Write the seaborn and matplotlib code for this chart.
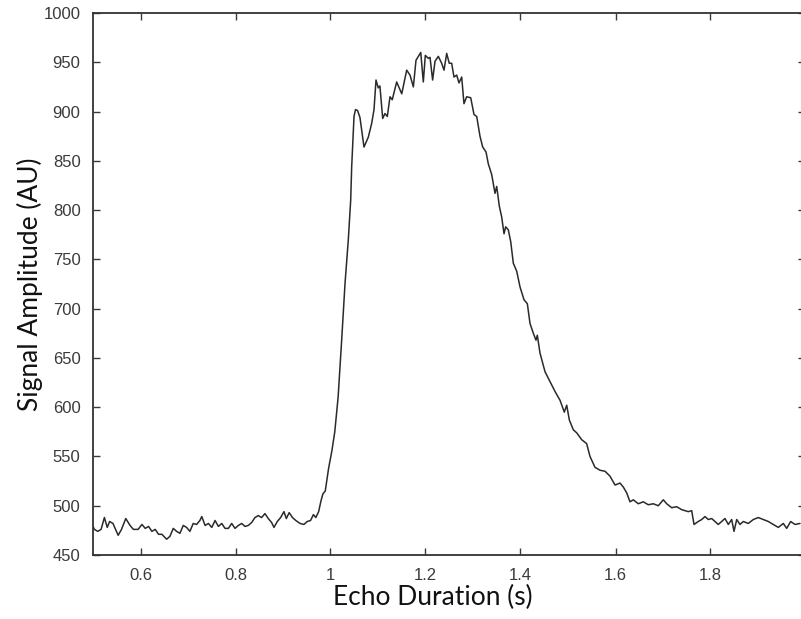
import numpy as np
import pandas as pd
import matplotlib
matplotlib.use("Agg")
import matplotlib.pyplot as plt
import seaborn as sns

# ---- data ----
baseline_t = [0.500, 0.503, 0.510, 0.517, 0.524, 0.530, 0.535, 0.542, 0.553, 0.560,
              0.569, 0.578, 0.585, 0.595, 0.603, 0.610, 0.617, 0.624, 0.631, 0.638,
              0.645, 0.655, 0.662, 0.669, 0.676, 0.683, 0.690, 0.697, 0.704, 0.711,
              0.718, 0.725, 0.729, 0.736, 0.743, 0.750, 0.757, 0.764, 0.771, 0.778,
              0.785, 0.792, 0.799, 0.806, 0.813, 0.820, 0.827, 0.834, 0.841, 0.848,
              0.855, 0.862, 0.869, 0.876, 0.881, 0.888, 0.895, 0.902, 0.907, 0.913,
              0.920, 0.927, 0.936, 0.944, 0.951, 0.958, 0.964, 0.969, 0.975]
baseline_a = [479, 476, 474, 476, 488, 478, 484, 482, 470, 476,
              487, 480, 476, 476, 481, 477, 479, 474, 476, 471,
              471, 466, 469, 477, 474, 472, 480, 478, 474, 482,
              481, 485, 489, 480, 482, 478, 485, 479, 482, 477,
              477, 482, 477, 480, 482, 479, 480, 483, 488, 490,
              488, 492, 487, 483, 478, 484, 488, 494, 487, 493,
              488, 485, 482, 481, 484, 485, 491, 488, 494]

rise_t = [0.980, 0.984, 0.989, 0.996, 1.003, 1.009, 1.016, 1.0235, 1.0305, 1.0375,
          1.0425, 1.0446, 1.0495, 1.0526, 1.057, 1.062, 1.0705]
rise_a = [505, 512, 515, 538, 556, 575, 610, 668, 725, 770,
          810, 844, 895, 902, 901, 894, 864]

plateau_t = [1.0796, 1.0867, 1.0916, 1.0958, 1.1006, 1.104, 1.1099, 1.1147, 1.1196, 1.1253,
             1.130, 1.1393, 1.150, 1.1604, 1.1674, 1.1744, 1.180, 1.185, 1.190, 1.1954,
             1.1996, 1.206, 1.2095, 1.215, 1.220, 1.227, 1.234, 1.239, 1.2446, 1.250,
             1.2551, 1.260, 1.2657, 1.2705, 1.2762, 1.281, 1.2867, 1.2952]
plateau_a = [874, 888, 902, 932, 924, 926, 893, 898, 895, 915,
             912, 930, 918, 942, 937, 925, 952, 956, 960, 930,
             957, 954, 955, 932, 951, 956, 949, 942, 959, 949,
             949, 935, 937, 929, 935, 908, 915, 914]

decay_t = [1.3021, 1.3078, 1.3147, 1.3204, 1.3274, 1.3322, 1.3394, 1.3463, 1.3499, 1.3554,
           1.3604, 1.3653, 1.3688, 1.3743, 1.3794, 1.3849, 1.392, 1.399, 1.4074, 1.4144,
           1.420, 1.427, 1.4326, 1.4354, 1.441, 1.4516, 1.4621, 1.4726, 1.4832, 1.4922,
           1.4973, 1.5028, 1.5112, 1.5183, 1.5288, 1.5393, 1.5463, 1.5568, 1.5674, 1.5779,
           1.5884, 1.599, 1.6095, 1.6164, 1.6236, 1.6305]
decay_a = [897, 895, 875, 864, 859, 847, 836, 817, 824, 804,
           793, 776, 783, 780, 768, 746, 738, 722, 709, 705,
           685, 675, 668, 673, 655, 636, 626, 616, 607, 595,
           602, 587, 577, 574, 567, 563, 550, 539, 536, 535,
           530, 521, 523, 519, 513, 504]

tail_t = [1.6375, 1.648, 1.6585, 1.669, 1.6796, 1.6901, 1.7006, 1.7078, 1.7183, 1.7288,
          1.7394, 1.7533, 1.7604, 1.7653, 1.7743, 1.7815, 1.7884, 1.7954, 1.8025, 1.8095,
          1.8164, 1.8236, 1.8305, 1.8375, 1.8446, 1.8495, 1.8552, 1.8621, 1.8691, 1.8796,
          1.8901, 1.9006, 1.9112, 1.9217, 1.9322, 1.9427, 1.9533, 1.9604, 1.9688, 1.9779,
          1.9884]
tail_a = [506, 502, 504, 501, 502, 500, 506, 502, 498, 499,
          496, 494, 495, 481, 484, 486, 489, 486, 487, 484,
          481, 484, 487, 481, 486, 474, 486, 481, 484, 482,
          486, 488, 486, 484, 481, 478, 482, 477, 484, 481,
          482]

x_ticks = [0.6, 0.8, 1.0, 1.2, 1.4, 1.6, 1.8]
x_tick_labels = ["0.6", "0.8", "1", "1.2", "1.4", "1.6", "1.8"]
y_ticks = [450, 500, 550, 600, 650, 700, 750, 800, 850, 900, 950, 1000]

df = pd.DataFrame({
    "t": baseline_t + rise_t + plateau_t + decay_t + tail_t,
    "a": baseline_a + rise_a + plateau_a + decay_a + tail_a,
})

sns.set_theme(style="ticks")
plt.rcParams["font.family"] = ["Liberation Sans", "DejaVu Sans"]

fig = plt.figure(figsize=(8.01, 6.19), dpi=100)
ax = fig.add_axes([93 / 801, 1 - 555 / 619, 712.5 / 801, 542 / 619])

sns.lineplot(data=df, x="t", y="a", ax=ax, color="#2a2a2a", linewidth=1.1,
             sort=False, estimator=None)

ax.set_xlim(0.5, 2.0)
ax.set_ylim(450, 1000)
ax.set_xticks(x_ticks)
ax.set_xticklabels(x_tick_labels)
ax.set_yticks(y_ticks)
ax.tick_params(direction="in", top=True, right=True, length=5, width=1.0,
               labelsize=12, colors="#3a3a3a", pad=9)
for s in ax.spines.values():
    s.set_color("#333333")
    s.set_linewidth(1.3)

ax.set_xlabel("Echo Duration (s)", fontsize=19, family=["Lato", "DejaVu Sans"], color="#111111")
ax.set_ylabel("Signal Amplitude (AU)", fontsize=19, family=["Lato", "DejaVu Sans"], color="#111111")
ax.xaxis.set_label_coords(0.477, -0.078)
ax.yaxis.set_label_coords(-0.088, 0.5)
ax.xaxis.label.set_va("center")
ax.yaxis.label.set_va("center")

fig.savefig("out.png", dpi=100)
